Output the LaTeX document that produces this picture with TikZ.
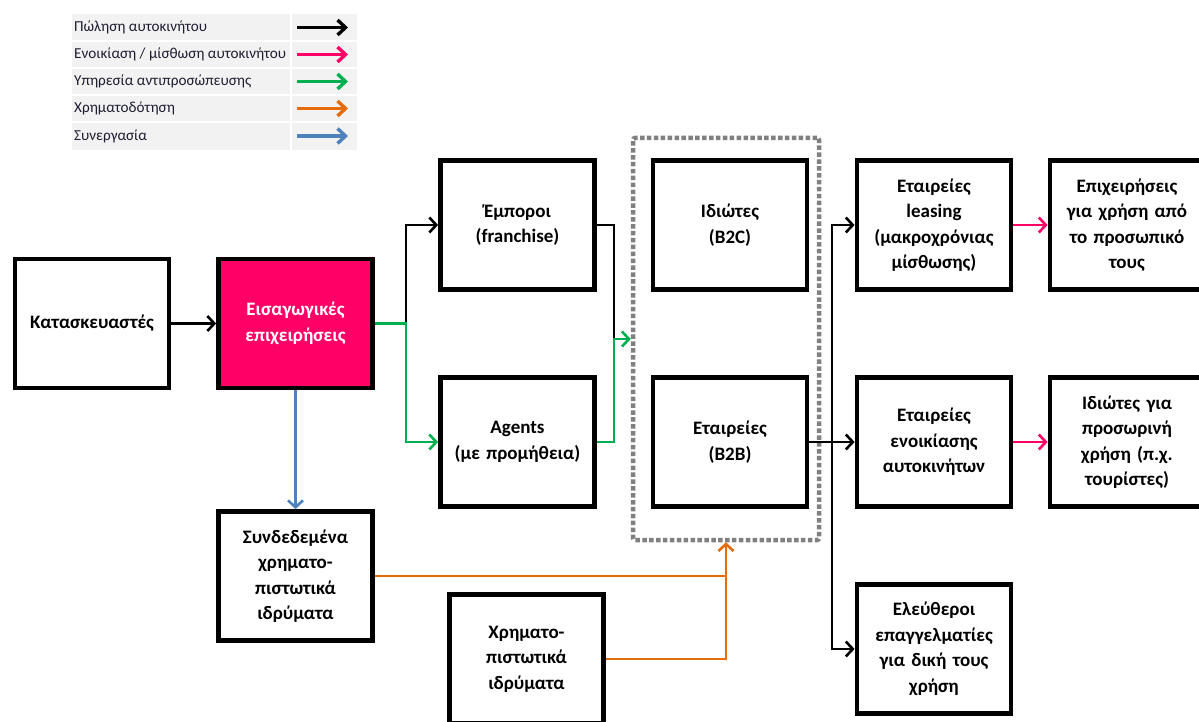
\documentclass[tikz,border=0pt]{standalone}
\usepackage{fontspec}
\setmainfont{Carlito}
\usetikzlibrary{arrows.meta}
\definecolor{pk}{RGB}{255,0,102}
\definecolor{gr}{RGB}{0,176,80}
\definecolor{orng}{RGB}{228,108,10}
\definecolor{bl}{RGB}{79,129,189}
\definecolor{grp}{RGB}{128,128,128}
\definecolor{legbg}{RGB}{242,242,242}
\definecolor{legtxt}{RGB}{30,30,50}
\begin{document}
\begin{tikzpicture}[x=1pt,y=-1pt,
  box/.style={draw=black, line width=4.8pt, minimum width=153pt, minimum height=129pt,
    text width=150pt, align=center, inner sep=2pt,
    font=\bfseries\fontsize{19}{25.5}\selectfont},
  grpbox/.style={draw=grp, line width=4.5pt, dash pattern=on 4.5pt off 2.4pt,
    rounded corners=2pt, minimum width=186pt, minimum height=402pt},
  lnk/.style={line width=2.6pt},
  conn/.style={line width=2.6pt, -{Straight Barb[length=7pt,width=15pt,line width=2.6pt]}},
  legarrow/.style={line width=3.4pt, -{Straight Barb[length=8pt,width=15pt,line width=3.4pt]}},
  legtext/.style={anchor=west, text=legtxt, inner sep=0pt, font=\fontsize{15.2}{16}\selectfont}
]
\useasboundingbox (0,0) rectangle (1199,722);
\clip (0,0) rectangle (1199,722);
\fill[white] (0,0) rectangle (1199,722);

% legend
\fill[legbg] (72,14) rectangle (357,150);
\foreach \yy in {41,68,95,122} \draw[white, line width=1.5pt] (72,\yy) -- (357,\yy);
\draw[white, line width=1.5pt] (291,14) -- (291,150);
\node[legtext] (l1) at (74,27.5) {Πώληση αυτοκινήτου};
\node[legtext] (l2) at (74,54.5) {Ενοικίαση / μίσθωση αυτοκινήτου};
\node[legtext] (l3) at (74,81.5) {Υπηρεσία αντιπροσώπευσης};
\node[legtext] (l4) at (74,108.5) {Χρηματοδότηση};
\node[legtext] (l5) at (74,136) {Συνεργασία};
\coordinate (a1s) at (297,27.5); \coordinate (a1e) at (348,27.5);
\coordinate (a2s) at (297,54.5); \coordinate (a2e) at (348,54.5);
\coordinate (a3s) at (297,81.5); \coordinate (a3e) at (348,81.5);
\coordinate (a4s) at (297,108.5); \coordinate (a4e) at (348,108.5);
\coordinate (a5s) at (297,136); \coordinate (a5e) at (348,136);
\draw[legarrow, black] (a1s) -- (a1e);
\draw[legarrow, pk] (a2s) -- (a2e);
\draw[legarrow, gr] (a3s) -- (a3e);
\draw[legarrow, orng] (a4s) -- (a4e);
\draw[legarrow, bl] (a5s) -- (a5e);

% boxes
\node[box] (kat) at (92,323.5) {Κατασκευαστές};
\node[box, fill=pk, text=white] (eis) at (295.5,323.5) {Εισαγωγικές\\επιχειρήσεις};
\node[box] (emp) at (517.5,225) {Έμποροι\\(franchise)};
\node[box] (agn) at (517.5,442) {Agents\\(με προμήθεια)};
\node[box] (b2c) at (730,225) {Ιδιώτες\\(B2C)};
\node[box] (b2b) at (730,442) {Εταιρείες\\(B2B)};
\node[box] (lea) at (934,225) {Εταιρείες\\leasing\\(μακροχρόνιας\\μίσθωσης)};
\node[box] (epi) at (1127,225) {Επιχειρήσεις\\για χρήση από\\το προσωπικό\\τους};
\node[box] (eno) at (934,442) {Εταιρείες\\ενοικίασης\\αυτοκινήτων};
\node[box] (idi) at (1127,442) {Ιδιώτες για\\προσωρινή\\χρήση (π.χ.\\τουρίστες)};
\node[box] (ele) at (934,649) {Ελεύθεροι\\επαγγελματίες\\για δική τους\\χρήση};
\node[box] (syn) at (295.5,576) {Συνδεδεμένα\\χρηματο-\\πιστωτικά\\ιδρύματα};
\node[box] (xrh) at (526.5,659) {Χρηματο-\\πιστωτικά\\ιδρύματα};
\node[grpbox] (grp) at (726,339) {};

% junctions
\coordinate (j1) at (406,323.5);
\coordinate (j2) at (614,339);
\coordinate (j3) at (832,442);

% connectors
\draw[conn] (kat.east) -- (eis.west);
\draw[conn] (j1) |- (emp.west);
\draw[conn, gr] (eis.east) -- (j1) |- (agn.west);
\draw[lnk] (emp.east) -| (j2);
\draw[conn, gr] (agn.east) -| (j2) -- (grp.west);
\draw[conn] (b2b.east) -- (eno.west);
\draw[conn] (j3) |- (lea.west);
\draw[conn] (j3) |- (ele.west);
\draw[conn, pk] (lea.east) -- (epi.west);
\draw[conn, pk] (eno.east) -- (idi.west);
\draw[conn, bl] (eis.south) -- (syn.north);
\draw[lnk, orng] (syn.east) -- (syn.east -| grp.south);
\draw[conn, orng] (xrh.east) -| (grp.south);
\end{tikzpicture}
\end{document}
